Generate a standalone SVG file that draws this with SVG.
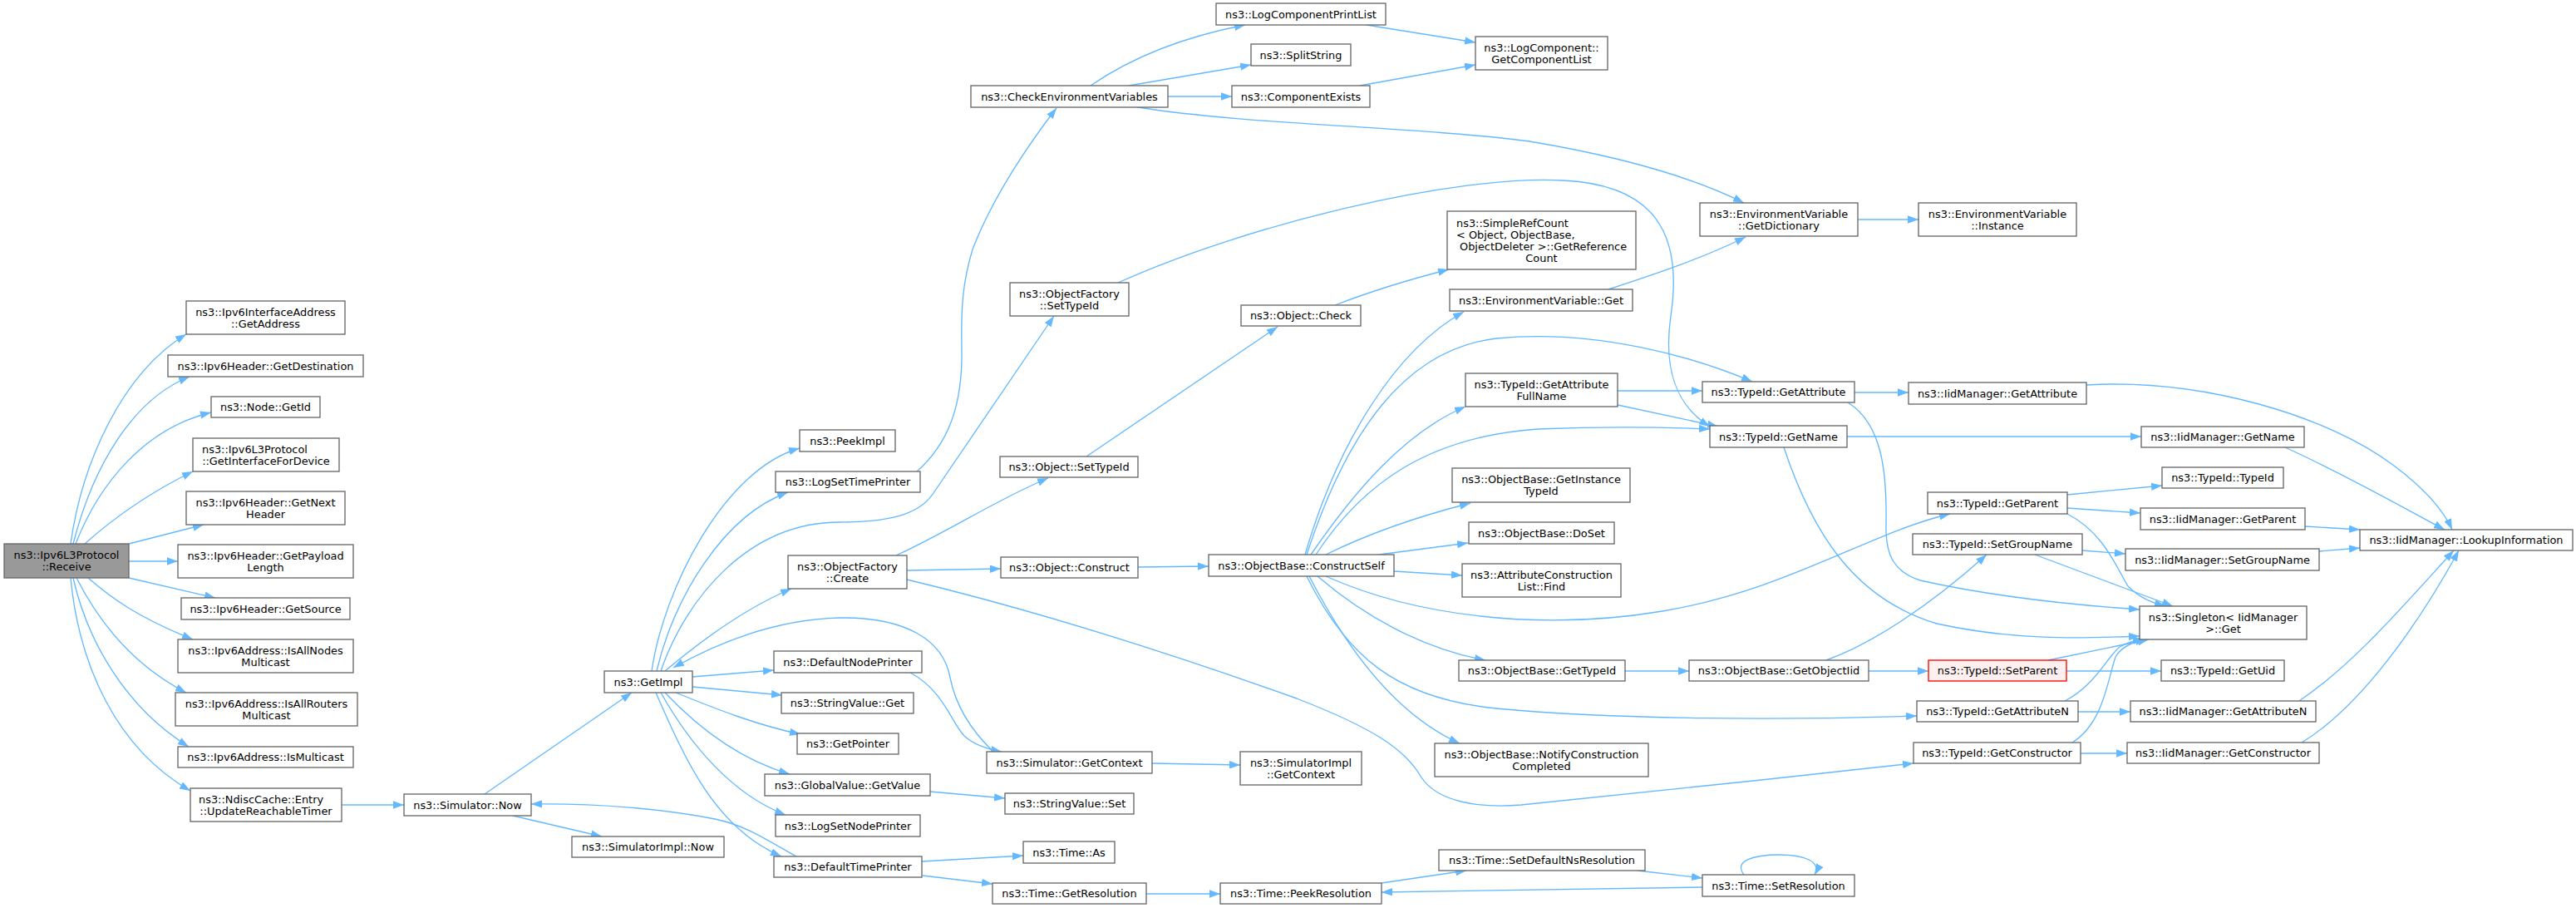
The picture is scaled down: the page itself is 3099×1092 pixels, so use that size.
<svg xmlns="http://www.w3.org/2000/svg" width="3099" height="1092" viewBox="0 0 3099 1092">
<style>
.n rect{fill:#ffffff;stroke:#666666;stroke-width:1.33}
.f rect{fill:#999999}
.r rect{fill:#fff0f0;stroke:#ff0000}
text{font-family:"DejaVu Sans",sans-serif;font-size:12.9px;fill:#000000;text-anchor:middle}
text.l{text-anchor:start}
#edges path{fill:none;stroke:#63b8ff;stroke-width:1.33;marker-end:url(#a)}
</style>
<defs>
<marker id="a" viewBox="0 0 13 9.4" refX="13" refY="4.7" markerWidth="13" markerHeight="9.4" markerUnits="userSpaceOnUse" orient="auto"><path d="M0,0 L13,4.7 L0,9.4 z" fill="#63b8ff"/></marker>
</defs>
<rect x="0" y="0" width="3099" height="1092" fill="#ffffff"/>
<g id="edges">
<path d="M85,654 C98,560 145,450 224,402"/>
<path d="M88,654 C112,560 160,480 228,453"/>
<path d="M91,654 C120,580 175,515 254,496"/>
<path d="M102,654 C140,620 185,590 232,567"/>
<path d="M155,654 L245,631"/>
<path d="M155,675 L214,675"/>
<path d="M155,695 L259,719"/>
<path d="M106,695 C135,720 165,742 232,769"/>
<path d="M92,695 C120,750 160,800 224,833"/>
<path d="M88,695 C105,770 150,850 227,898"/>
<path d="M85,695 C95,800 140,900 229,951"/>
<path d="M411,968 L486,968"/>
<path d="M583,955 L760,833"/>
<path d="M617,981 L724,1006"/>
<path d="M958,1030 C930,1015 900,993 860,985 C800,973 720,966 639,967"/>
<path d="M784,807 C798,710 870,565 962,539"/>
<path d="M790,807 C810,720 870,620 948,592"/>
<path d="M795,807 C825,720 900,628 1010,628 C1080,628 1110,615 1125,590 L1268,380"/>
<path d="M800,807 C850,765 900,730 952,708"/>
<path d="M1195,904 C1170,880 1150,850 1143,815 C1135,770 1090,742 1010,743 C930,745 860,775 810,803"/>
<path d="M833,814 L931,806"/>
<path d="M833,826 L941,836"/>
<path d="M813,833 C860,852 910,872 963,883"/>
<path d="M800,833 C835,870 885,912 950,931"/>
<path d="M795,833 C830,895 880,955 945,980"/>
<path d="M789,833 C825,915 860,995 940,1030"/>
<path d="M1095,809 C1135,830 1145,870 1160,885 C1172,896 1188,901 1205,904"/>
<path d="M1386,918 L1492,920"/>
<path d="M1119,952 L1209,960"/>
<path d="M1109,1036 L1231,1029"/>
<path d="M1110,1053 L1194,1063"/>
<path d="M1379,1075 L1468,1075"/>
<path d="M1662,1062 L1764,1047"/>
<path d="M1970,1047 L2048,1056"/>
<path d="M2048,1067 L1662,1073"/>
<path d="M2098,1052 C2085,1035 2110,1028 2140,1028 C2170,1028 2192,1036 2183,1052"/>
<path d="M1078,668 C1140,640 1200,600 1261,575"/>
<path d="M1091,686 L1204,684"/>
<path d="M1091,697 C1250,735 1420,790 1560,840 C1650,875 1690,900 1710,935 C1730,965 1780,972 1830,968 C1960,955 2150,935 2302,918"/>
<path d="M1369,682 L1454,681"/>
<path d="M1307,549 L1537,393"/>
<path d="M1606,367 C1650,350 1700,335 1743,324"/>
<path d="M1345,340 C1500,270 1750,210 1880,217 C1990,222 2025,280 2010,380 C2000,450 2020,490 2057,513"/>
<path d="M1103,567 C1145,530 1158,480 1157,420 C1156,370 1158,340 1170,300 C1195,235 1240,170 1271,130"/>
<path d="M1312,103 C1360,70 1420,45 1498,30"/>
<path d="M1358,103 L1505,78"/>
<path d="M1405,116 L1482,116"/>
<path d="M1369,129 C1500,150 1700,152 1840,170 C1960,190 2040,215 2098,244"/>
<path d="M1644,30 L1775,51"/>
<path d="M1636,103 L1775,78"/>
<path d="M2235,264 L2308,264"/>
<path d="M1935,348 C1990,330 2050,310 2100,285"/>
<path d="M1570,667 C1610,530 1680,420 1761,375"/>
<path d="M1572,667 C1620,520 1690,420 1800,407 C1920,395 2040,430 2108,459"/>
<path d="M1577,667 C1630,590 1690,520 1763,489"/>
<path d="M1583,667 C1640,580 1720,525 1850,516 C1950,512 2010,514 2057,516"/>
<path d="M1946,487 L2067,513"/>
<path d="M1946,470 L2048,470"/>
<path d="M1595,667 C1650,640 1710,620 1769,605"/>
<path d="M1659,667 L1766,653"/>
<path d="M1677,687 L1759,692"/>
<path d="M1595,693 C1700,740 1850,760 2000,735 C2150,710 2250,640 2346,618"/>
<path d="M1585,693 C1640,740 1710,780 1787,794"/>
<path d="M1575,693 C1620,780 1680,860 1756,894"/>
<path d="M1572,693 C1620,790 1680,840 1800,852 C1950,866 2150,866 2306,861"/>
<path d="M2146,538 C2180,640 2230,720 2330,750 C2420,770 2500,768 2574,765"/>
<path d="M2231,472 L2296,472"/>
<path d="M2223,484 C2265,510 2270,570 2269,630 C2268,670 2280,688 2310,698 C2400,718 2500,728 2574,733"/>
<path d="M2222,525 L2576,525"/>
<path d="M2510,463 C2650,455 2800,500 2880,560 C2920,590 2940,615 2950,637"/>
<path d="M2749,538 C2820,570 2890,610 2941,637"/>
<path d="M2487,595 L2601,584"/>
<path d="M2487,611 L2575,617"/>
<path d="M2487,618 C2530,640 2545,680 2560,705 C2575,720 2590,725 2605,729"/>
<path d="M2773,633 L2839,637"/>
<path d="M2505,662 L2557,666"/>
<path d="M2448,667 L2614,729"/>
<path d="M2790,663 L2839,659"/>
<path d="M1955,807 L2032,807"/>
<path d="M2197,794 C2250,775 2320,730 2390,667"/>
<path d="M2248,807 L2320,807"/>
<path d="M2464,794 L2585,769"/>
<path d="M2486,807 L2600,807"/>
<path d="M2500,856 L2563,856"/>
<path d="M2484,843 C2520,825 2535,790 2550,778 C2560,772 2570,770 2579,769"/>
<path d="M2503,906 L2559,906"/>
<path d="M2493,893 C2530,870 2535,820 2545,790 C2552,778 2565,772 2582,769"/>
<path d="M2766,843 C2830,800 2890,730 2952,662"/>
<path d="M2769,893 C2840,850 2910,750 2958,662"/>
</g>
<g id="n_receive" class="n f"><rect x="5" y="654" width="150" height="41"/><text x="80" y="672">ns3::Ipv6L3Protocol</text><text x="80" y="686">::Receive</text></g>
<g id="n_getaddress" class="n"><rect x="224" y="362" width="191" height="40"/><text x="319.5" y="379.5">ns3::Ipv6InterfaceAddress</text><text x="319.5" y="393.5">::GetAddress</text></g>
<g id="n_getdest" class="n"><rect x="202" y="427" width="235" height="26"/><text x="319.5" y="444.5">ns3::Ipv6Header::GetDestination</text></g>
<g id="n_getid" class="n"><rect x="254" y="477" width="131" height="25"/><text x="319.5" y="494">ns3::Node::GetId</text></g>
<g id="n_getifdev" class="n"><rect x="232" y="527" width="176" height="40"/><text class="l" x="243" y="544.5">ns3::Ipv6L3Protocol</text><text x="320" y="558.5">::GetInterfaceForDevice</text></g>
<g id="n_getnext" class="n"><rect x="224" y="591" width="191" height="40"/><text x="319.5" y="608.5">ns3::Ipv6Header::GetNext</text><text x="319.5" y="622.5">Header</text></g>
<g id="n_getpayload" class="n"><rect x="214" y="655" width="211" height="40"/><text x="319.5" y="672.5">ns3::Ipv6Header::GetPayload</text><text x="319.5" y="686.5">Length</text></g>
<g id="n_getsource" class="n"><rect x="218" y="719" width="203" height="26"/><text x="319.5" y="736.5">ns3::Ipv6Header::GetSource</text></g>
<g id="n_isallnodes" class="n"><rect x="214" y="769" width="211" height="40"/><text x="319.5" y="786.5">ns3::Ipv6Address::IsAllNodes</text><text x="319.5" y="800.5">Multicast</text></g>
<g id="n_isallrouters" class="n"><rect x="211" y="833" width="219" height="40"/><text x="320.5" y="850.5">ns3::Ipv6Address::IsAllRouters</text><text x="320.5" y="864.5">Multicast</text></g>
<g id="n_ismulticast" class="n"><rect x="214" y="898" width="211" height="25"/><text x="319.5" y="915">ns3::Ipv6Address::IsMulticast</text></g>
<g id="n_update" class="n"><rect x="229" y="948" width="182" height="40"/><text class="l" x="239" y="965.5">ns3::NdiscCache::Entry</text><text x="320" y="979.5">::UpdateReachableTimer</text></g>
<g id="n_simnow" class="n"><rect x="486" y="955" width="153" height="26"/><text x="562.5" y="972.5">ns3::Simulator::Now</text></g>
<g id="n_simimplnow" class="n"><rect x="688" y="1006" width="183" height="25"/><text x="779.5" y="1023">ns3::SimulatorImpl::Now</text></g>
<g id="n_getimpl" class="n"><rect x="727" y="807" width="106" height="26"/><text x="780" y="824.5">ns3::GetImpl</text></g>
<g id="n_peekimpl" class="n"><rect x="962" y="517" width="115" height="26"/><text x="1019.5" y="534.5">ns3::PeekImpl</text></g>
<g id="n_logsettime" class="n"><rect x="933" y="567" width="174" height="25"/><text x="1020" y="584">ns3::LogSetTimePrinter</text></g>
<g id="n_ofcreate" class="n"><rect x="948" y="668" width="143" height="40"/><text x="1019.5" y="685.5">ns3::ObjectFactory</text><text x="1019.5" y="699.5">::Create</text></g>
<g id="n_defnode" class="n"><rect x="931" y="783" width="178" height="26"/><text x="1020" y="800.5">ns3::DefaultNodePrinter</text></g>
<g id="n_svget" class="n"><rect x="940" y="833" width="159" height="25"/><text x="1019.5" y="850">ns3::StringValue::Get</text></g>
<g id="n_getpointer" class="n"><rect x="959" y="882" width="122" height="25"/><text x="1020" y="899">ns3::GetPointer</text></g>
<g id="n_gvgetvalue" class="n"><rect x="920" y="931" width="199" height="26"/><text x="1019.5" y="948.5">ns3::GlobalValue::GetValue</text></g>
<g id="n_logsetnode" class="n"><rect x="933" y="980" width="174" height="26"/><text x="1020" y="997.5">ns3::LogSetNodePrinter</text></g>
<g id="n_deftime" class="n"><rect x="931" y="1030" width="178" height="25"/><text x="1020" y="1047">ns3::DefaultTimePrinter</text></g>
<g id="n_checkenv" class="n"><rect x="1168" y="103" width="237" height="26"/><text x="1286.5" y="120.5">ns3::CheckEnvironmentVariables</text></g>
<g id="n_ofsettypeid" class="n"><rect x="1215" y="340" width="143" height="40"/><text x="1286.5" y="357.5">ns3::ObjectFactory</text><text x="1286.5" y="371.5">::SetTypeId</text></g>
<g id="n_objsettypeid" class="n"><rect x="1203" y="549" width="166" height="25"/><text x="1286" y="566">ns3::Object::SetTypeId</text></g>
<g id="n_objconstruct" class="n"><rect x="1204" y="670" width="165" height="25"/><text x="1286.5" y="687">ns3::Object::Construct</text></g>
<g id="n_simgetctx" class="n"><rect x="1187" y="904" width="199" height="26"/><text x="1286.5" y="921.5">ns3::Simulator::GetContext</text></g>
<g id="n_svset" class="n"><rect x="1209" y="954" width="155" height="25"/><text x="1286.5" y="971">ns3::StringValue::Set</text></g>
<g id="n_timeas" class="n"><rect x="1231" y="1012" width="110" height="26"/><text x="1286" y="1029.5">ns3::Time::As</text></g>
<g id="n_timegetres" class="n"><rect x="1194" y="1062" width="185" height="25"/><text x="1286.5" y="1079">ns3::Time::GetResolution</text></g>
<g id="n_logcompprint" class="n"><rect x="1463" y="4" width="204" height="26"/><text x="1565" y="21.5">ns3::LogComponentPrintList</text></g>
<g id="n_splitstring" class="n"><rect x="1505" y="53" width="120" height="26"/><text x="1565" y="70.5">ns3::SplitString</text></g>
<g id="n_compexists" class="n"><rect x="1482" y="103" width="166" height="26"/><text x="1565" y="120.5">ns3::ComponentExists</text></g>
<g id="n_getcomplist" class="n"><rect x="1775" y="44" width="159" height="40"/><text x="1854.5" y="61.5">ns3::LogComponent::</text><text x="1854.5" y="75.5">GetComponentList</text></g>
<g id="n_objcheck" class="n"><rect x="1493" y="367" width="144" height="25"/><text x="1565" y="384">ns3::Object::Check</text></g>
<g id="n_simplerefcount" class="n"><rect x="1741" y="254" width="227" height="70"/><text class="l" x="1752" y="272.5">ns3::SimpleRefCount</text><text class="l" x="1752" y="286.5">&lt; Object, ObjectBase,</text><text class="l" x="1756" y="300.5">ObjectDeleter &gt;::GetReference</text><text x="1854.5" y="314.5">Count</text></g>
<g id="n_envget" class="n"><rect x="1744" y="348" width="220" height="26"/><text x="1854" y="365.5">ns3::EnvironmentVariable::Get</text></g>
<g id="n_getattrfull" class="n"><rect x="1763" y="449" width="183" height="40"/><text x="1854.5" y="466.5">ns3::TypeId::GetAttribute</text><text x="1854.5" y="480.5">FullName</text></g>
<g id="n_constructself" class="n"><rect x="1454" y="667" width="223" height="26"/><text x="1565.5" y="684.5">ns3::ObjectBase::ConstructSelf</text></g>
<g id="n_getinsttypeid" class="n"><rect x="1747" y="563" width="214" height="41"/><text x="1854" y="581">ns3::ObjectBase::GetInstance</text><text x="1854" y="595">TypeId</text></g>
<g id="n_doset" class="n"><rect x="1767" y="628" width="175" height="26"/><text x="1854.5" y="645.5">ns3::ObjectBase::DoSet</text></g>
<g id="n_find" class="n"><rect x="1759" y="678" width="191" height="40"/><text x="1854.5" y="695.5">ns3::AttributeConstruction</text><text x="1854.5" y="709.5">List::Find</text></g>
<g id="n_obgettypeid" class="n"><rect x="1755" y="794" width="200" height="25"/><text x="1855" y="811">ns3::ObjectBase::GetTypeId</text></g>
<g id="n_notify" class="n"><rect x="1726" y="894" width="257" height="40"/><text x="1854.5" y="911.5">ns3::ObjectBase::NotifyConstruction</text><text x="1854.5" y="925.5">Completed</text></g>
<g id="n_simimplgetctx" class="n"><rect x="1492" y="904" width="146" height="40"/><text x="1565" y="921.5">ns3::SimulatorImpl</text><text x="1565" y="935.5">::GetContext</text></g>
<g id="n_peekres" class="n"><rect x="1468" y="1062" width="194" height="25"/><text x="1565" y="1079">ns3::Time::PeekResolution</text></g>
<g id="n_setdefns" class="n"><rect x="1731" y="1022" width="248" height="25"/><text x="1855" y="1039">ns3::Time::SetDefaultNsResolution</text></g>
<g id="n_getdict" class="n"><rect x="2045" y="244" width="190" height="40"/><text x="2140" y="261.5">ns3::EnvironmentVariable</text><text x="2140" y="275.5">::GetDictionary</text></g>
<g id="n_envinstance" class="n"><rect x="2308" y="244" width="190" height="40"/><text x="2403" y="261.5">ns3::EnvironmentVariable</text><text x="2403" y="275.5">::Instance</text></g>
<g id="n_getattr" class="n"><rect x="2048" y="459" width="183" height="25"/><text x="2139.5" y="476">ns3::TypeId::GetAttribute</text></g>
<g id="n_getname" class="n"><rect x="2057" y="512" width="165" height="26"/><text x="2139.5" y="529.5">ns3::TypeId::GetName</text></g>
<g id="n_getobjiid" class="n"><rect x="2032" y="794" width="216" height="25"/><text x="2140" y="811">ns3::ObjectBase::GetObjectIid</text></g>
<g id="n_setres" class="n"><rect x="2048" y="1052" width="183" height="26"/><text x="2139.5" y="1069.5">ns3::Time::SetResolution</text></g>
<g id="n_iidgetattr" class="n"><rect x="2296" y="460" width="214" height="26"/><text x="2403" y="477.5">ns3::IidManager::GetAttribute</text></g>
<g id="n_iidgetname" class="n"><rect x="2576" y="513" width="196" height="25"/><text x="2674" y="530">ns3::IidManager::GetName</text></g>
<g id="n_typeidtypeid" class="n"><rect x="2601" y="562" width="146" height="25"/><text x="2674" y="579">ns3::TypeId::TypeId</text></g>
<g id="n_getparent" class="n"><rect x="2319" y="592" width="168" height="26"/><text x="2403" y="609.5">ns3::TypeId::GetParent</text></g>
<g id="n_iidgetparent" class="n"><rect x="2575" y="611" width="198" height="26"/><text x="2674" y="628.5">ns3::IidManager::GetParent</text></g>
<g id="n_lookup" class="n"><rect x="2839" y="637" width="256" height="25"/><text x="2967" y="654">ns3::IidManager::LookupInformation</text></g>
<g id="n_setgroupname" class="n"><rect x="2301" y="642" width="204" height="25"/><text x="2403" y="659">ns3::TypeId::SetGroupName</text></g>
<g id="n_iidsetgroupname" class="n"><rect x="2557" y="660" width="233" height="26"/><text x="2673.5" y="677.5">ns3::IidManager::SetGroupName</text></g>
<g id="n_singleton" class="n"><rect x="2574" y="729" width="201" height="40"/><text x="2674.5" y="746.5">ns3::Singleton&lt; IidManager</text><text x="2674.5" y="760.5">&gt;::Get</text></g>
<g id="n_setparent" class="n r"><rect x="2320" y="794" width="166" height="25"/><text x="2403" y="811">ns3::TypeId::SetParent</text></g>
<g id="n_getuid" class="n"><rect x="2600" y="794" width="148" height="25"/><text x="2674" y="811">ns3::TypeId::GetUid</text></g>
<g id="n_getattrn" class="n"><rect x="2306" y="843" width="194" height="25"/><text x="2403" y="860">ns3::TypeId::GetAttributeN</text></g>
<g id="n_iidgetattrn" class="n"><rect x="2563" y="843" width="223" height="25"/><text x="2674.5" y="860">ns3::IidManager::GetAttributeN</text></g>
<g id="n_getctor" class="n"><rect x="2302" y="893" width="201" height="25"/><text x="2402.5" y="910">ns3::TypeId::GetConstructor</text></g>
<g id="n_iidgetctor" class="n"><rect x="2559" y="893" width="231" height="25"/><text x="2674.5" y="910">ns3::IidManager::GetConstructor</text></g>
</svg>
